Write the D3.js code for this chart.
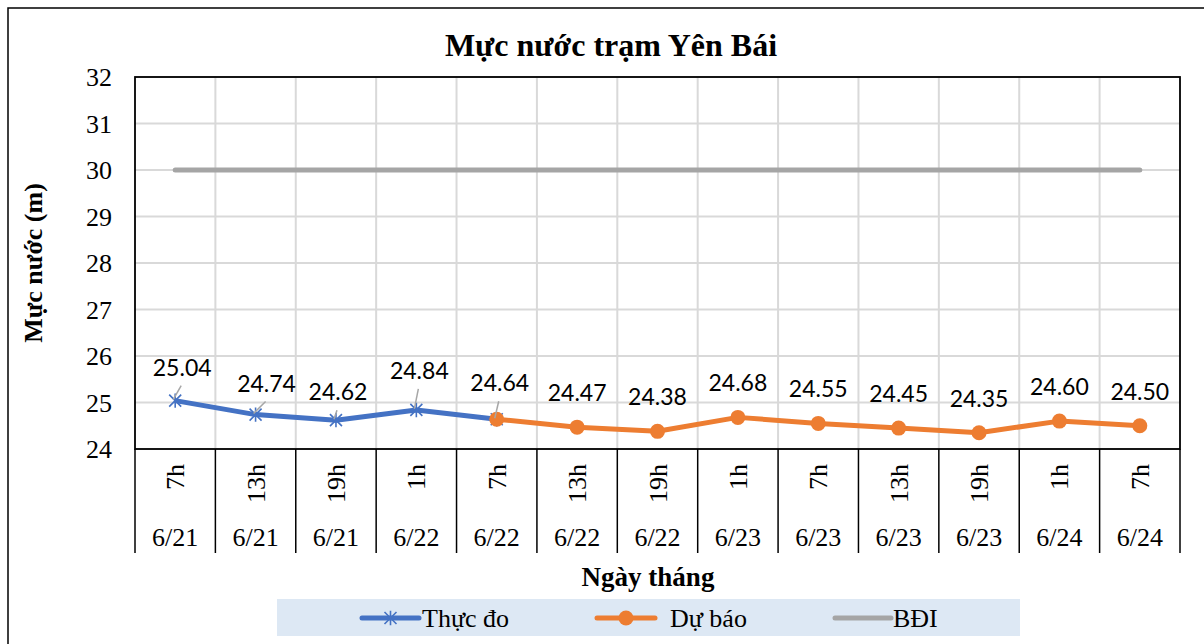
<!DOCTYPE html>
<html lang="vi">
<head>
<meta charset="UTF-8">
<title>Mực nước trạm Yên Bái</title>
<script src="https://cdn.jsdelivr.net/npm/d3@7"></script>
<style>
  body { margin: 0; background: #fff; }
  svg { display: block; }
</style>
</head>
<body>
<script>
// du lieu
var hours = ["7h","13h","19h","1h","7h","13h","19h","1h","7h","13h","19h","1h","7h"];
var dates = ["6/21","6/21","6/21","6/22","6/22","6/22","6/22","6/23","6/23","6/23","6/23","6/24","6/24"];
var thucDo = [25.04, 24.74, 24.62, 24.84, 24.64, null, null, null, null, null, null, null, null];
var duBao = [null, null, null, null, 24.64, 24.47, 24.38, 24.68, 24.55, 24.45, 24.35, 24.60, 24.50];
var bdi = [30, 30, 30, 30, 30, 30, 30, 30, 30, 30, 30, 30, 30];
var yTicks = [24, 25, 26, 27, 28, 29, 30, 31, 32];

// nhan thuc do bi keo lech (co duong dan)
var obsLabelShift = [[7, -33], [11, -31], [2, -28], [3, -39], [3, -36]];

var width = 1204, height = 644;
var plot = {left: 135, top: 77, right: 1180, bottom: 449};
var tableBottom = 553;
var times = "'Times New Roman', 'Liberation Serif', serif";
var labelFont = "Lato, 'Open Sans', sans-serif";

var svg = d3.select('body').append('svg').attr('width', width).attr('height', height);

// khung ngoai
svg.append('rect').attr('x', 8).attr('y', 8).attr('width', 1210).attr('height', 660)
    .attr('fill', 'none').attr('stroke', '#000').attr('stroke-width', 1.5);

var idx = d3.range(hours.length);
var x = d3.scaleBand().domain(idx).range([plot.left, plot.right]);
var y = d3.scaleLinear().domain([24, 32]).range([plot.bottom, plot.top]);
var cx = function(i){ return x(i) + x.bandwidth() / 2; };

// luoi
svg.append('g').selectAll('line').data(yTicks).enter().append('line')
    .attr('x1', plot.left).attr('x2', plot.right)
    .attr('y1', function(d){ return y(d); }).attr('y2', function(d){ return y(d); })
    .attr('stroke', '#d9d9d9').attr('stroke-width', 2);
svg.append('g').selectAll('line').data(idx.slice(1)).enter().append('line')
    .attr('x1', function(i){ return x(i); }).attr('x2', function(i){ return x(i); })
    .attr('y1', plot.top).attr('y2', plot.bottom)
    .attr('stroke', '#d9d9d9').attr('stroke-width', 2);

// vach bang truc x
svg.append('g').selectAll('line').data(idx.concat([hours.length])).enter().append('line')
    .attr('x1', function(i){ return i < hours.length ? x(i) : plot.right; })
    .attr('x2', function(i){ return i < hours.length ? x(i) : plot.right; })
    .attr('y1', plot.bottom).attr('y2', tableBottom)
    .attr('stroke', '#000').attr('stroke-width', 1.5);

// khung vung ve
svg.append('rect').attr('x', plot.left).attr('y', plot.top)
    .attr('width', plot.right - plot.left).attr('height', plot.bottom - plot.top)
    .attr('fill', 'none').attr('stroke', '#000').attr('stroke-width', 1.8);

// nhan truc y
svg.append('g').selectAll('text').data(yTicks).enter().append('text')
    .attr('x', 112).attr('y', function(d){ return y(d) + 9; })
    .attr('text-anchor', 'end').attr('font-family', times).attr('font-size', '26px')
    .text(function(d){ return d; });

// nhan gio (xoay)
svg.append('g').selectAll('text').data(idx).enter().append('text')
    .attr('transform', function(i){ return 'translate(' + (cx(i) + 9) + ',464) rotate(-90)'; })
    .attr('text-anchor', 'end').attr('font-family', times).attr('font-size', '26px')
    .text(function(i){ return hours[i]; });

// nhan ngay
svg.append('g').selectAll('text').data(idx).enter().append('text')
    .attr('x', function(i){ return cx(i); }).attr('y', 546)
    .attr('text-anchor', 'middle').attr('font-family', times).attr('font-size', '26px')
    .text(function(i){ return dates[i]; });

// tieu de
svg.append('text').attr('x', 611).attr('y', 56).attr('text-anchor', 'middle')
    .attr('font-family', times).attr('font-size', '32px').attr('font-weight', 'bold')
    .text('Mực nước trạm Yên Bái');
svg.append('text').attr('x', 648).attr('y', 586).attr('text-anchor', 'middle')
    .attr('font-family', times).attr('font-size', '27px').attr('font-weight', 'bold')
    .text('Ngày tháng');
svg.append('text').attr('transform', 'translate(42,263) rotate(-90)').attr('text-anchor', 'middle')
    .attr('font-family', times).attr('font-size', '26px').attr('font-weight', 'bold')
    .text('Mực nước (m)');

// duong
var line = d3.line().defined(function(d){ return d.v != null; })
    .x(function(d){ return cx(d.i); }).y(function(d){ return y(d.v); });
function pts(arr){ return arr.map(function(v, i){ return {i: i, v: v}; }); }

svg.append('path').datum(pts(bdi)).attr('d', line).attr('fill', 'none')
    .attr('stroke', '#a5a5a5').attr('stroke-width', 5).attr('stroke-linecap', 'round');
svg.append('path').datum(pts(thucDo)).attr('d', line).attr('fill', 'none')
    .attr('stroke', '#4472c4').attr('stroke-width', 5).attr('stroke-linejoin', 'round');
svg.append('path').datum(pts(duBao)).attr('d', line).attr('fill', 'none')
    .attr('stroke', '#ed7d31').attr('stroke-width', 5).attr('stroke-linejoin', 'round');

function star(g, px, py, r){
    var d = 'M' + (px - r) + ',' + (py - r) + 'L' + (px + r) + ',' + (py + r) +
        'M' + (px - r) + ',' + (py + r) + 'L' + (px + r) + ',' + (py - r) +
        'M' + px + ',' + (py - r * 1.2) + 'L' + px + ',' + (py + r * 1.2);
    g.append('path').attr('d', d).attr('stroke', '#4472c4').attr('stroke-width', 1.6).attr('fill', 'none');
}

var obs = pts(thucDo).filter(function(d){ return d.v != null; });
var fc = pts(duBao).filter(function(d){ return d.v != null; });

var mk = svg.append('g');
obs.forEach(function(d){ star(mk, cx(d.i), y(d.v), 6); });
mk.selectAll('circle').data(fc).enter().append('circle')
    .attr('cx', function(d){ return cx(d.i); }).attr('cy', function(d){ return y(d.v); })
    .attr('r', 7.5).attr('fill', '#ed7d31');

// nhan du lieu
var lab = svg.append('g');
obs.forEach(function(d, k){
    var s = obsLabelShift[k];
    var lx = cx(d.i) + s[0], ly = y(d.v) + s[1];
    lab.append('line').attr('x1', lx - 1).attr('y1', ly + 18).attr('x2', cx(d.i) - 2).attr('y2', y(d.v) - 1)
        .attr('stroke', '#a6a6a6').attr('stroke-width', 1.5);
    lab.append('text').attr('x', lx).attr('y', ly + 8).attr('text-anchor', 'middle')
        .attr('font-family', labelFont).attr('font-size', '23px').text(d.v.toFixed(2));
});
fc.slice(1).forEach(function(d){
    lab.append('text').attr('x', cx(d.i)).attr('y', y(d.v) - 26).attr('text-anchor', 'middle')
        .attr('font-family', labelFont).attr('font-size', '23px').text(d.v.toFixed(2));
});

// chu giai
var leg = svg.append('g');
leg.append('rect').attr('x', 277).attr('y', 599).attr('width', 743).attr('height', 37).attr('fill', '#dde8f4');
var items = [
    {name: 'Thực đo', color: '#4472c4', x0: 362, x1: 419, tx: 422, m: 'star'},
    {name: 'Dự báo', color: '#ed7d31', x0: 597, x1: 655, tx: 670, m: 'circle'},
    {name: 'BĐI', color: '#a5a5a5', x0: 835, x1: 891, tx: 893, m: null}
];
items.forEach(function(it){
    leg.append('line').attr('x1', it.x0).attr('x2', it.x1).attr('y1', 618).attr('y2', 618)
        .attr('stroke', it.color).attr('stroke-width', 5).attr('stroke-linecap', 'round');
    var mx = (it.x0 + it.x1) / 2;
    if (it.m === 'star') star(leg, mx, 618, 6);
    if (it.m === 'circle') leg.append('circle').attr('cx', mx).attr('cy', 618).attr('r', 7.5).attr('fill', it.color);
    leg.append('text').attr('x', it.tx).attr('y', 627).attr('font-family', times).attr('font-size', '26px')
        .text(it.name);
});
</script>
</body>
</html>
